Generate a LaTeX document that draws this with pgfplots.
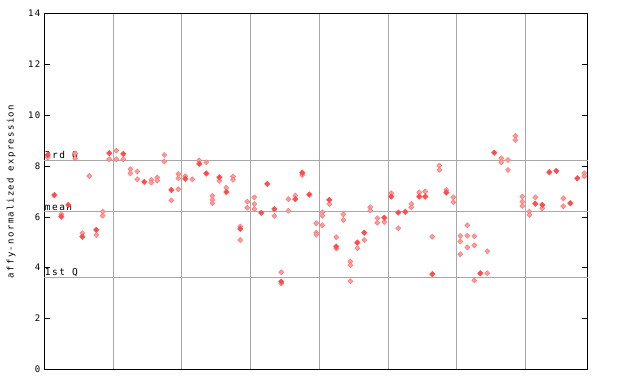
\documentclass[border=0pt]{standalone}
\usepackage{fontspec}
\usepackage{pgfplots}
\pgfplotsset{compat=1.18}
\newfontfamily\pixfont{DejaVu Sans Mono}[LetterSpace=15]
\definecolor{solidred}{HTML}{FF4C4C}
\definecolor{lightred}{HTML}{FF9C9C}
\definecolor{lightedge}{HTML}{FF7070}
\definecolor{gridgray}{HTML}{A8A8A8}
\begin{document}
\begin{tikzpicture}
\path[use as bounding box] (0pt,0pt) rectangle (640pt,384pt);
\begin{axis}[
  at={(44.3pt,14.7pt)}, anchor=south west,
  scale only axis, width=543.4pt, height=355.6pt,
  xmin=44.3, xmax=587.7, ymin=0, ymax=14,
  ytick={0,2,4,6,8,10,12,14},
  xtick={113.7,181.3,250.3,319.3,388.7,456.7,525.3},
  xticklabels={},
  xmajorgrids, major x grid style={gridgray, line width=0.9pt},
  x tick style={draw=none},
  tick align=inside, major tick length=6pt,
  y tick style={black, line width=0.8pt},
  ytick pos=both,
  axis line style={black, line width=1.2pt},
  /pgf/number format/assume math mode=true,
  yticklabel style={font=\pixfont\fontsize{9}{10}\selectfont, xshift=-0.5pt},
  ylabel={affy-normalized expression},
  ylabel style={font=\pixfont\fontsize{9}{10}\selectfont, at={(axis description cs:-0.061,0.5)}, anchor=center},
  clip=false,
]
\addplot[gridgray, line width=0.9pt, no marks] coordinates {(44.3,8.24) (587.7,8.24)};
\addplot[gridgray, line width=0.9pt, no marks] coordinates {(44.3,6.22) (587.7,6.22)};
\addplot[gridgray, line width=0.9pt, no marks] coordinates {(44.3,3.62) (587.7,3.62)};
\node[anchor=south west, inner sep=0.5pt, font=\pixfont\fontsize{9.5}{10}\selectfont] at (axis cs:44.3,8.24) {3rd Q};
\node[anchor=south west, inner sep=0.5pt, font=\pixfont\fontsize{9.5}{10}\selectfont] at (axis cs:44.3,6.22) {mean};
\node[anchor=south west, inner sep=0.5pt, font=\pixfont\fontsize{9.5}{10}\selectfont] at (axis cs:44.3,3.62) {1st Q};
\addplot[only marks, mark=diamond*, mark size=2.6pt, mark options={fill=lightred, draw=lightedge, line width=0.4pt, xscale=1.3}] coordinates {
(47.7,8.35) (61.3,6.1) (75.3,8.5) (75.3,8.3) (82.3,5.36) (89.3,7.61) (96.3,5.29)
(102.7,6.21) (102.7,6.05) (109.3,8.27) (116.3,8.61) (116.3,8.27) (123.3,8.27)
(130.3,7.88) (130.3,7.72) (137.3,7.79) (137.3,7.48) (151.3,7.46) (151.3,7.35)
(157.3,7.55) (157.3,7.43) (164.3,8.44) (164.3,8.18) (171.3,6.65)
(178.3,7.69) (178.3,7.52) (178.3,7.09) (185.3,7.6) (192.3,7.48) (199.3,8.22)
(206.3,8.15) (212.3,6.83) (212.3,6.67) (212.3,6.54) (219.3,7.42) (226.3,7.15)
(233,7.59) (233,7.46) (240.3,5.62) (240.3,5.09) (247.3,6.6) (247.3,6.36)
(254.3,6.77) (254.3,6.51) (254.3,6.31) (274.3,6.04) (281.3,3.82) (281.3,3.38)
(288.3,6.7) (288.3,6.24) (295.3,6.84) (302.3,7.65) (316.3,5.75) (316.3,5.38) (316.3,5.3)
(322.3,6.18) (322.3,6.05) (322.3,5.67) (329.3,6.51) (336.3,5.2) (336.3,4.75)
(343.3,6.1) (343.3,5.88) (350.3,4.24) (350.3,4.1) (350.3,3.47) (357.3,4.77)
(364.3,5.09) (370.3,6.38) (370.3,6.25) (377.3,5.95) (377.3,5.77) (384.3,5.8)
(391.3,6.93) (398.3,5.55) (411.3,6.51) (411.3,6.38) (419.3,6.96) (425.3,7.0)
(432.3,5.22) (439.3,8.02) (439.3,7.85) (446.3,7.06) (453.3,6.77) (453.3,6.58)
(460.3,5.25) (460.3,5.03) (460.3,4.53) (467.3,5.67) (467.3,5.26) (467.3,4.8)
(474.3,5.24) (474.3,4.88) (474.3,3.5) (487.3,4.65) (487.3,3.78)
(501.3,8.31) (501.3,8.15) (508,8.24) (508,7.85) (515.3,9.19) (515.3,9.03)
(522.3,6.8) (522.3,6.6) (522.3,6.43) (529.3,6.21) (529.3,6.08) (535.3,6.77)
(542.3,6.34) (563.3,6.73) (563.3,6.42) (584.3,7.72) (584.3,7.6)
};
\addplot[only marks, mark=diamond*, mark size=2.8pt, mark options={fill=solidred, draw=solidred, xscale=1.3}] coordinates {
(47.7,8.44) (54.3,6.86) (61.3,6.01) (68.3,6.47) (82.3,5.22) (96.3,5.49)
(109.3,8.51) (123.3,8.48) (144.3,7.38) (171.3,7.06) (185.3,7.5) (199.3,8.09)
(206.3,7.71) (219.3,7.56) (226.3,6.98) (240.3,5.53) (261.3,6.16) (267.3,7.3)
(274.3,6.31) (281.3,3.45) (295.3,6.7) (302.3,7.74) (309.3,6.88) (329.3,6.67)
(336.3,4.83) (357.3,4.99) (364.3,5.38) (384.3,5.97) (391.3,6.8) (398.3,6.17)
(405.3,6.2) (419.3,6.8) (425.3,6.8) (432.3,3.75) (446.3,6.96) (480.3,3.78)
(494.3,8.53) (535.3,6.52) (542.3,6.47) (549.3,7.76) (556.3,7.81) (570.3,6.54)
(577.3,7.52)
};
\end{axis}
\end{tikzpicture}
\end{document}
